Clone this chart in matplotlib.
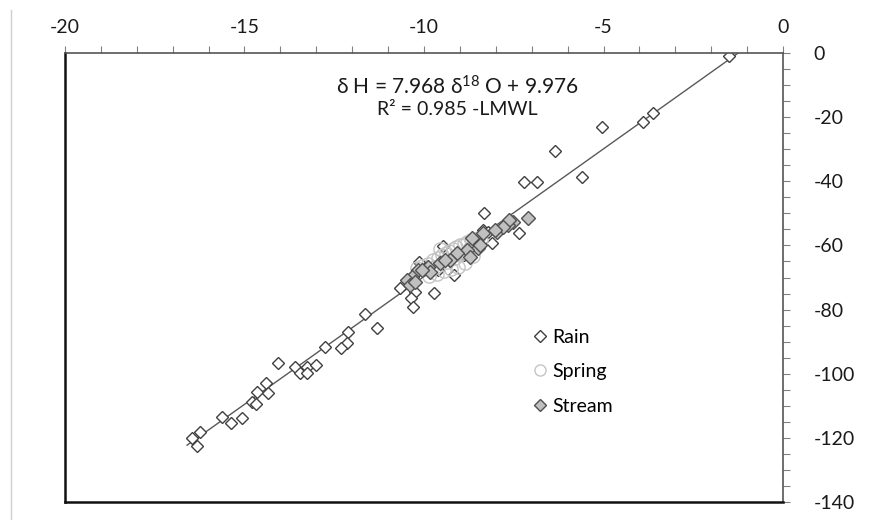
import numpy as np
import matplotlib.pyplot as plt
from matplotlib.ticker import MultipleLocator
from matplotlib.lines import Line2D

plt.rcParams['font.family'] = ['Lato', 'DejaVu Sans']
plt.rcParams['axes.unicode_minus'] = False

# isotope data (d18O, dD)
rain_x = [-1.50, -3.62, -3.89, -5.04, -6.34, -5.60, -7.21, -6.86, -8.33, -7.35,
          -8.37, -9.46, -10.14, -9.16, -9.72, -10.67, -10.25, -10.36, -10.30, -11.64,
          -11.32, -12.12, -12.76, -12.15, -12.32, -14.06, -13.59, -13.27, -13.01, -13.45,
          -13.25, -14.40, -14.64, -14.35, -14.80, -14.68, -15.64, -15.38, -15.08, -16.24,
          -16.47, -16.33, -8.12, -8.21, -8.90, -9.60]
rain_y = [-0.8, -18.6, -21.4, -23.0, -30.6, -38.8, -40.1, -40.1, -50.0, -56.0,
          -55.2, -60.2, -65.1, -69.2, -74.7, -73.4, -74.4, -76.5, -79.3, -81.5,
          -85.7, -87.0, -91.6, -90.5, -92.1, -96.8, -97.8, -97.8, -97.2, -99.9,
          -99.7, -102.8, -105.6, -105.9, -108.7, -109.4, -113.6, -115.3, -113.9, -118.1,
          -120.1, -122.5, -59.3, -55.7, -63.0, -67.5]

spring_x = [-10.2, -10.05, -9.9, -9.75, -9.6, -9.5, -9.4, -9.3, -9.2, -9.1,
            -9.0, -8.9, -8.8, -8.7, -8.6, -8.5, -8.4, -9.85, -9.65, -9.45,
            -9.25, -9.05, -8.85, -8.65, -9.7, -9.35, -9.0, -8.75, -9.55, -9.15]
spring_y = [-67.0, -66.4, -65.8, -64.6, -63.8, -63.0, -62.4, -61.6, -61.0, -60.4,
            -60.0, -59.4, -58.8, -58.2, -58.6, -57.8, -58.4, -69.4, -68.8, -68.0,
            -67.4, -66.6, -65.6, -63.4, -66.8, -65.2, -62.8, -61.0, -61.2, -64.0]

stream_x = [-7.10, -7.51, -7.66, -7.98, -8.35, -8.67, -8.49, -8.81, -9.09, -9.28,
            -9.55, -9.88, -9.83, -10.16, -10.34, -10.48, -10.39, -7.63, -7.79, -8.02,
            -8.44, -8.72, -9.42, -10.06, -10.25]
stream_y = [-51.5, -52.6, -53.6, -55.7, -56.2, -57.8, -60.9, -61.4, -62.5, -64.5,
            -65.6, -66.6, -68.2, -67.7, -69.8, -70.8, -72.3, -52.1, -54.2, -55.2,
            -59.9, -63.5, -64.5, -67.7, -71.3]

slope, intercept = 7.968, 9.976
line_x = [-16.6, -1.252]

fig = plt.figure(figsize=(8.96, 5.2), dpi=100)
ax = fig.add_axes([0.0725, 0.0346, 0.8015, 0.8634])

lx = np.array(line_x)
ax.plot(lx, slope * lx + intercept, color='#595959', lw=1.0, zorder=1)

ax.plot(rain_x, rain_y, 'D', ms=6.3, mfc='white', mec='#404040', mew=1.0,
        ls='none', zorder=2)
ax.plot(spring_x, spring_y, 'o', ms=9.5, mfc='none', mec='#c4c4c4', mew=1.0,
        ls='none', zorder=3)
ax.plot(stream_x, stream_y, 'D', ms=7.6, mfc='#c0c0c0', mec='#505050', mew=1.0,
        ls='none', zorder=4)

ax.set_xlim(-20, 0)
ax.set_ylim(-140, 0)
ax.xaxis.set_major_locator(MultipleLocator(5))
ax.xaxis.set_minor_locator(MultipleLocator(1))
ax.yaxis.set_major_locator(MultipleLocator(20))
ax.yaxis.set_minor_locator(MultipleLocator(5))
ax.xaxis.tick_top()
ax.yaxis.tick_right()
ax.tick_params(which='both', direction='out', length=5, width=0.8,
               color='#808080', labelsize=14, labelcolor='#1a1a1a')
ax.tick_params(axis='x', pad=7)
ax.tick_params(axis='y', pad=17)

for side in ['left', 'bottom']:
    ax.spines[side].set_color('#111111')
    ax.spines[side].set_linewidth(1.8)
for side in ['top', 'right']:
    ax.spines[side].set_color('#555555')
    ax.spines[side].set_linewidth(1.2)

ax.text(-9.08, -10.6, r'δ H = 7.968 δ$\mathregular{^{18}}$ O + 9.976',
        ha='center', va='center', fontsize=15, color='#1a1a1a')
ax.text(-9.08, -17.6, 'R² = 0.985 -LMWL', ha='center', va='center',
        fontsize=14, color='#1a1a1a')

handles = [
    Line2D([], [], marker='D', ms=6, mfc='white', mec='#404040', ls='none'),
    Line2D([], [], marker='o', ms=8, mfc='none', mec='#c4c4c4', ls='none'),
    Line2D([], [], marker='D', ms=6, mfc='#c0c0c0', mec='#505050', ls='none'),
]
ax.legend(handles, ['Rain', 'Spring', 'Stream'], loc='upper left',
          bbox_to_anchor=(0.648, 0.386), frameon=False, fontsize=14,
          handletextpad=0.15, handlelength=1.0, labelspacing=0.9,
          borderaxespad=0, borderpad=0)

fig.add_artist(Line2D([0.012, 0.012], [0.0, 0.98], color='#d0d0d0', lw=1))

fig.savefig('out.png', dpi=100)
